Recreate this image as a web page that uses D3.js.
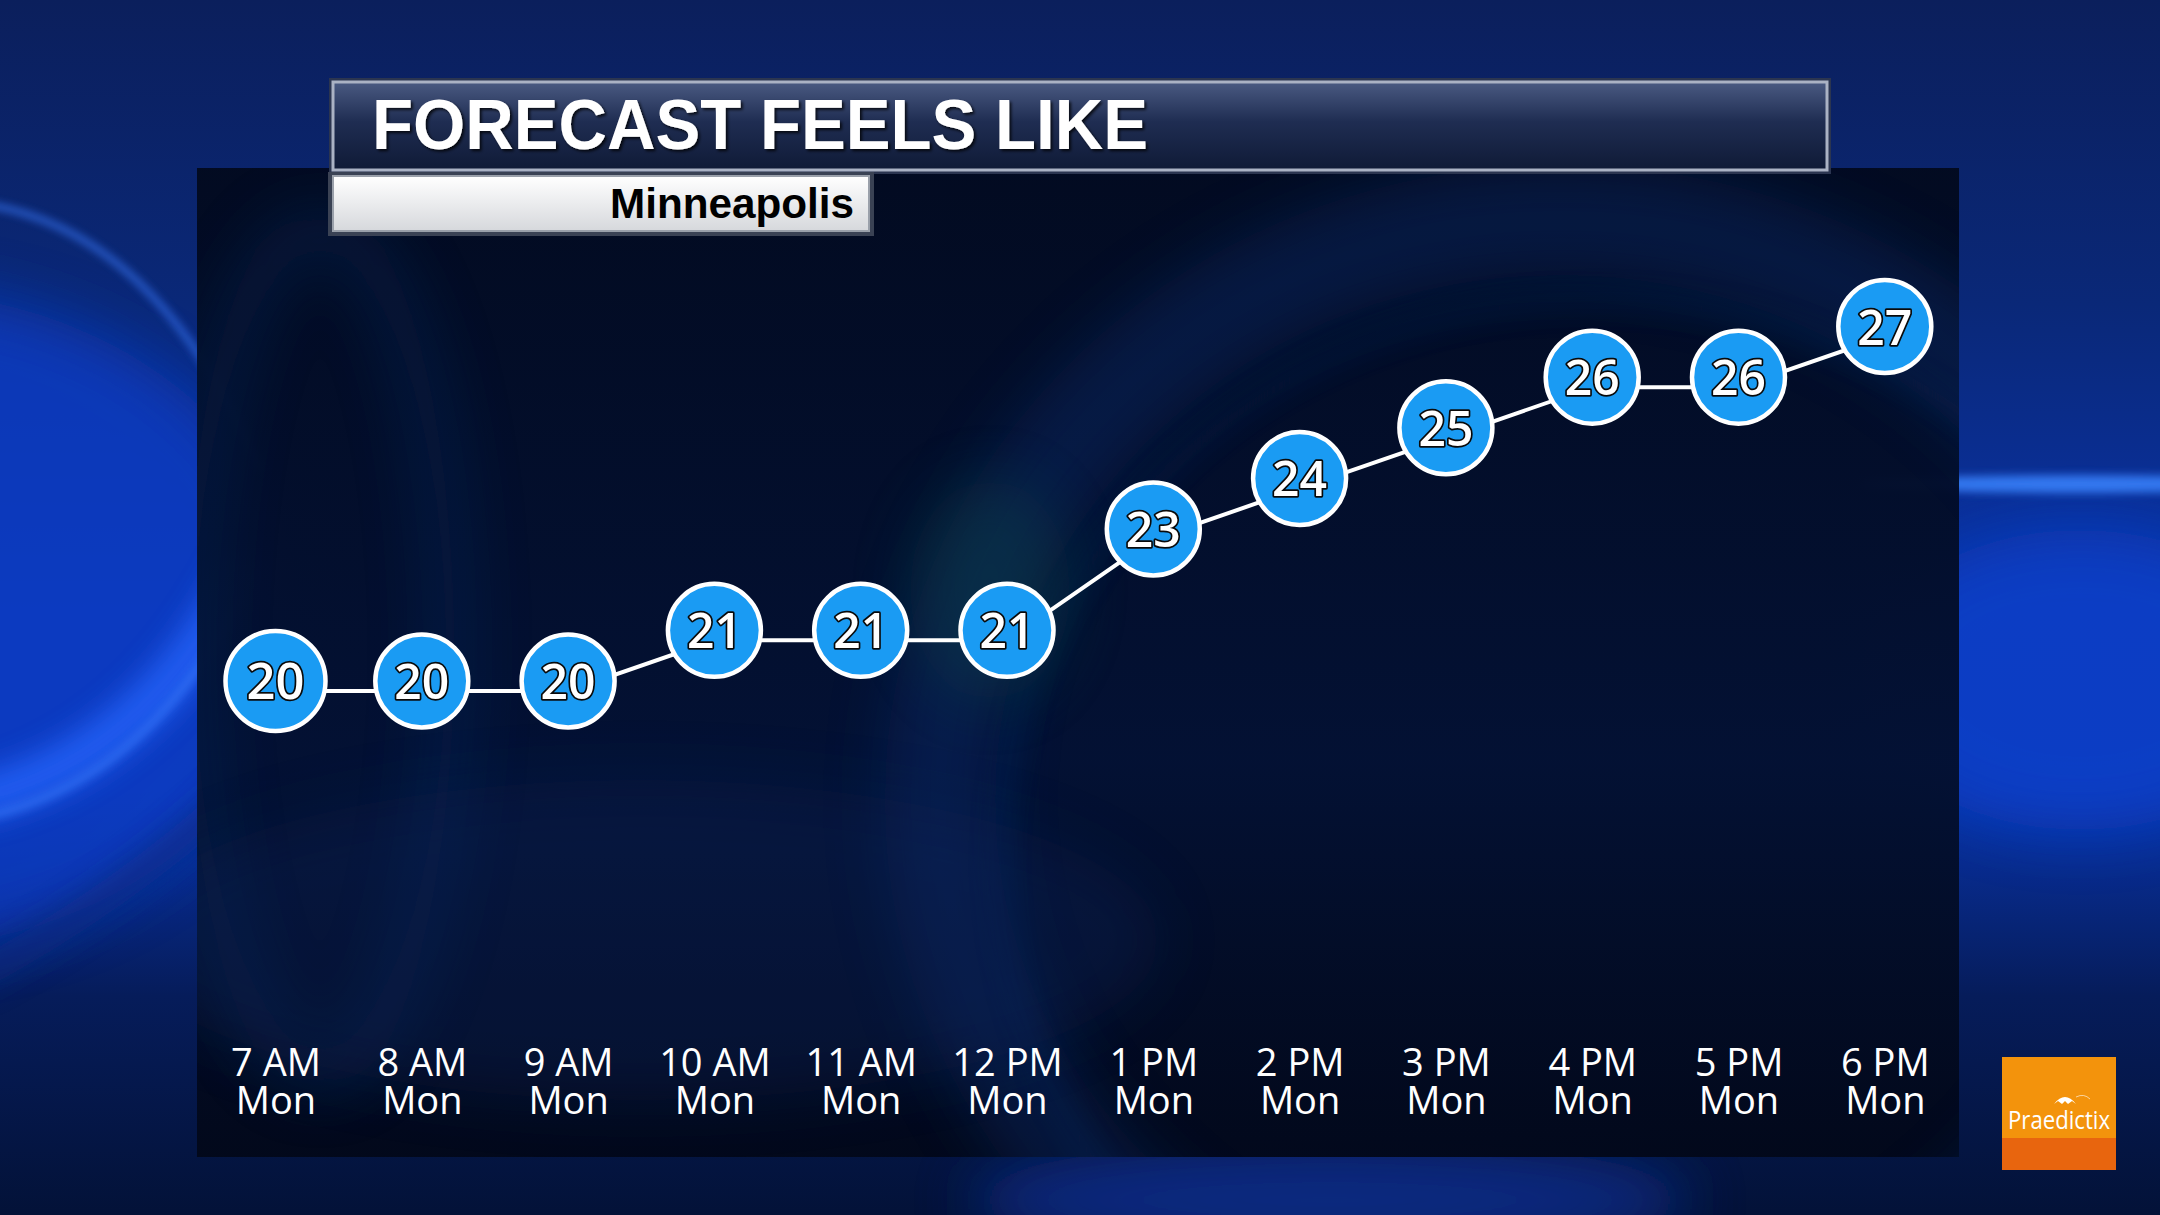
<!DOCTYPE html>
<html>
<head>
<meta charset="utf-8">
<script src="https://cdn.jsdelivr.net/npm/d3@7"></script>
<style>
html,body{margin:0;padding:0;background:#0a2a8c;overflow:hidden;}
svg{display:block;}
</style>
</head>
<body>
<svg id="chart" width="2160" height="1215"></svg>
<script>
const titleText = "FORECAST FEELS LIKE";
const subtitleText = "Minneapolis";
const hours = ["7 AM","8 AM","9 AM","10 AM","11 AM","12 PM","1 PM","2 PM","3 PM","4 PM","5 PM","6 PM"];
const days = ["Mon","Mon","Mon","Mon","Mon","Mon","Mon","Mon","Mon","Mon","Mon","Mon"];
const feelsLike = [20,20,20,21,21,21,23,24,25,26,26,27];
const brandText = "Praedictix";

const W = 2160, H = 1215;
const svg = d3.select("#chart");
const defs = svg.append("defs");

// ---------- background ----------
const bgGrad = defs.append("linearGradient").attr("id","bg").attr("x1",0).attr("y1",0).attr("x2",0).attr("y2",1);
[["0%","#0b1f5c"],["25%","#0a2878"],["50%","#0a33a8"],["65%","#0934aa"],["82%","#061c5a"],["100%","#031238"]]
  .forEach(([o,c])=>bgGrad.append("stop").attr("offset",o).attr("stop-color",c));
svg.append("rect").attr("width",W).attr("height",H).attr("fill","url(#bg)");

const mkBlur = (id,sd)=>{
  const f = defs.append("filter").attr("id",id).attr("x","-50%").attr("y","-50%").attr("width","200%").attr("height","200%");
  f.append("feGaussianBlur").attr("stdDeviation",sd);
};
mkBlur("blur",30); mkBlur("blurM",14); mkBlur("blurS",4);

const glow = svg.append("g");
// left side: medium blue field and bright arcs
glow.append("ellipse").attr("cx",-120).attr("cy",620).attr("rx",420).attr("ry",330)
  .attr("fill","#0b3cc8").attr("opacity",0.75).attr("filter","url(#blur)");
glow.append("path").attr("d","M -30,800 Q 150,760 250,560")
  .attr("fill","none").attr("stroke","#2566ff").attr("stroke-width",46).attr("opacity",0.75).attr("filter","url(#blurM)");
glow.append("path").attr("d","M -30,820 Q 140,790 240,600")
  .attr("fill","none").attr("stroke","#3d80ff").attr("stroke-width",8).attr("opacity",0.55).attr("filter","url(#blurS)");
glow.append("path").attr("d","M -10,205 Q 160,235 260,470")
  .attr("fill","none").attr("stroke","#3a7cff").attr("stroke-width",6).attr("opacity",0.7).attr("filter","url(#blurS)");
glow.append("path").attr("d","M -30,980 Q 120,900 240,790")
  .attr("fill","none").attr("stroke","#0a2a80").attr("stroke-width",30).attr("opacity",0.6).attr("filter","url(#blurM)");
// right side streak and glow
glow.append("ellipse").attr("cx",2080).attr("cy",680).attr("rx",220).attr("ry",150)
  .attr("fill","#0c42d0").attr("opacity",0.7).attr("filter","url(#blur)");
glow.append("ellipse").attr("cx",2080).attr("cy",484).attr("rx",220).attr("ry",9)
  .attr("fill","#3a84ff").attr("opacity",0.85).attr("filter","url(#blurS)");
// bottom centre lighter patch
glow.append("ellipse").attr("cx",1330).attr("cy",1200).attr("rx",360).attr("ry",60)
  .attr("fill","#0d2f90").attr("opacity",0.8).attr("filter","url(#blur)");

// ---------- dark panel ----------
const panel = {x:197, y:168, w:1762, h:989};
const pGrad = defs.append("linearGradient").attr("id","panel").attr("x1",0).attr("y1",0).attr("x2",0).attr("y2",1);
pGrad.append("stop").attr("offset","0%").attr("stop-color","#020a1f");
pGrad.append("stop").attr("offset","60%").attr("stop-color","#031030");
pGrad.append("stop").attr("offset","100%").attr("stop-color","#02081a");
svg.append("rect").attr("x",panel.x).attr("y",panel.y).attr("width",panel.w).attr("height",panel.h)
  .attr("fill","url(#panel)").attr("opacity",0.97);

const clip = defs.append("clipPath").attr("id","pclip");
clip.append("rect").attr("x",panel.x).attr("y",panel.y).attr("width",panel.w).attr("height",panel.h);
const inner = svg.append("g").attr("clip-path","url(#pclip)");
inner.append("ellipse").attr("cx",1560).attr("cy",800).attr("rx",620).attr("ry",580)
  .attr("fill","none").attr("stroke","#0f3378").attr("stroke-width",110).attr("opacity",0.35).attr("filter","url(#blur)");
inner.append("ellipse").attr("cx",1600).attr("cy",860).attr("rx",600).attr("ry",560)
  .attr("fill","none").attr("stroke","#17408e").attr("stroke-width",8).attr("opacity",0.3).attr("filter","url(#blurM)");
inner.append("ellipse").attr("cx",320).attr("cy",650).attr("rx",130).attr("ry",420)
  .attr("fill","none").attr("stroke","#0f2d68").attr("stroke-width",40).attr("opacity",0.4).attr("filter","url(#blur)");
inner.append("ellipse").attr("cx",990).attr("cy",590).attr("rx",80).attr("ry",110)
  .attr("fill","#0f5548").attr("opacity",0.3).attr("filter","url(#blur)");
inner.append("ellipse").attr("cx",640).attr("cy",940).attr("rx",520).attr("ry",160)
  .attr("fill","#0a2660").attr("opacity",0.3).attr("filter","url(#blur)");

// ---------- title boxes ----------
const tGrad = defs.append("linearGradient").attr("id","tgrad").attr("x1",0).attr("y1",0).attr("x2",0).attr("y2",1);
tGrad.append("stop").attr("offset","0%").attr("stop-color","#4a5a82");
tGrad.append("stop").attr("offset","45%").attr("stop-color","#1f2d52");
tGrad.append("stop").attr("offset","100%").attr("stop-color","#0f1a36");
svg.append("rect").attr("x",329).attr("y",78).attr("width",1502).attr("height",96)
  .attr("fill","#2b3550");
svg.append("rect").attr("x",333).attr("y",82).attr("width",1494).attr("height",88)
  .attr("fill","url(#tgrad)").attr("stroke","#aab2c4").attr("stroke-width",3);

const sGrad = defs.append("linearGradient").attr("id","sgrad").attr("x1",0).attr("y1",0).attr("x2",0).attr("y2",1);
sGrad.append("stop").attr("offset","0%").attr("stop-color","#ffffff");
sGrad.append("stop").attr("offset","100%").attr("stop-color","#d6d8dc");
svg.append("rect").attr("x",328).attr("y",172).attr("width",546).attr("height",64).attr("fill","#3a4254");
svg.append("rect").attr("x",333).attr("y",176).attr("width",536).attr("height",55)
  .attr("fill","url(#sgrad)").attr("stroke","#9aa0aa").attr("stroke-width",2);

const tShadow = defs.append("filter").attr("id","tshadow");
tShadow.append("feDropShadow").attr("dx",2).attr("dy",2).attr("stdDeviation",1.5).attr("flood-color","#000").attr("flood-opacity",0.8);

svg.append("text").attr("x",372).attr("y",149)
  .attr("font-family","'Liberation Sans', Arial, sans-serif").attr("font-weight","bold")
  .attr("font-size",70).attr("fill","#ffffff")
  .attr("textLength",776).attr("lengthAdjust","spacingAndGlyphs")
  .attr("filter","url(#tshadow)")
  .text(titleText);

svg.append("text").attr("x",854).attr("y",218).attr("text-anchor","end")
  .attr("font-family","'Liberation Sans', Arial, sans-serif").attr("font-weight","bold")
  .attr("font-size",43).attr("fill","#000000")
  .attr("textLength",244).attr("lengthAdjust","spacingAndGlyphs")
  .text(subtitleText);

// ---------- scales ----------
const x = d3.scalePoint().domain(hours).range([275.5, 1884.8]).padding(0);
const y = d3.scaleLinear().domain([20, 27]).range([681, 326.5]);
const data = hours.map((h,i)=>({h, d:days[i], v:feelsLike[i], i}));

// line (drawn slightly below circle centres as in the original)
const line = d3.line().x(d=>x(d.h)).y(d=>y(d.v)+10);
svg.append("path").datum(data).attr("d",line)
  .attr("fill","none").attr("stroke","#ffffff").attr("stroke-width",4);

// circles
const pts = svg.append("g").selectAll("g").data(data).join("g")
  .attr("transform",d=>`translate(${x(d.h)},${y(d.v)})`);
pts.append("circle").attr("r",d=>d.i===0?50:46.5)
  .attr("fill","#1a9bf3").attr("stroke","#ffffff").attr("stroke-width",4.5);
pts.append("text").attr("text-anchor","middle").attr("y",18)
  .attr("font-family","'Open Sans', 'Noto Sans', sans-serif").attr("font-weight",600)
  .attr("font-size",d=>d.i===0?51:49)
  .attr("fill","#ffffff").attr("stroke","#0a0a0a").attr("stroke-width",3.5)
  .attr("paint-order","stroke").attr("stroke-linejoin","round")
  .attr("textLength",d=>d.i===0?58:55).attr("lengthAdjust","spacingAndGlyphs")
  .text(d=>d.v);

// ---------- x axis ----------
const axis = d3.axisBottom(x).tickSize(0).tickPadding(0);
const ax = svg.append("g").attr("transform","translate(0,1076)").call(axis);
ax.select(".domain").remove();
ax.selectAll(".tick text").each(function(h,i){
  const t = d3.select(this);
  t.attr("y",0).attr("dy",null).text(null)
   .attr("fill","#ffffff")
   .attr("font-family","'Open Sans', 'Noto Sans', sans-serif")
   .attr("font-size",38);
  t.append("tspan").attr("x",0).attr("y",0).text(h);
  t.append("tspan").attr("x",0).attr("y",38).text(days[i]);
});

// ---------- brand logo ----------
const lg = svg.append("g").attr("transform","translate(2002,1057)");
lg.append("rect").attr("width",114).attr("height",113).attr("fill","#e8650e");
lg.append("rect").attr("width",114).attr("height",81).attr("fill","#f3930c");
lg.append("path").attr("d","M52,47 Q63,33 74,47 L70,44 L66,47 L63,44 L60,47 L56,44 Z").attr("fill","#ffffff");
lg.append("path").attr("d","M74,40 Q82,36 88,42").attr("fill","none").attr("stroke","#ffffff").attr("stroke-width",1).attr("opacity",0.6);
lg.append("text").attr("x",57).attr("y",72).attr("text-anchor","middle")
  .attr("font-family","'Open Sans', 'Noto Sans', sans-serif").attr("font-size",26)
  .attr("fill","#ffffff").attr("textLength",102).attr("lengthAdjust","spacingAndGlyphs")
  .text(brandText);
</script>
</body>
</html>
